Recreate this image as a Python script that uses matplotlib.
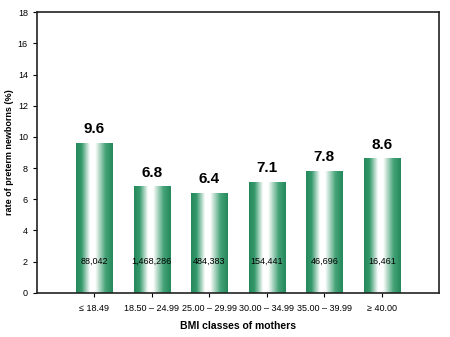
import numpy as np
import matplotlib.pyplot as plt
from matplotlib.colors import LinearSegmentedColormap

# BMI classes and preterm rates
classes = ['\u2264 18.49', '18.50 \u2013 24.99', '25.00 \u2013 29.99',
           '30.00 \u2013 34.99', '35.00 \u2013 39.99', '\u2265 40.00']
rates = [9.6, 6.8, 6.4, 7.1, 7.8, 8.6]
counts = ['88,042', '1,468,286', '484,383', '154,441', '46,696', '16,461']

plt.rcParams['font.family'] = ['Liberation Sans Narrow', 'Liberation Sans', 'DejaVu Sans']

fig = plt.figure(figsize=(4.5, 3.37), dpi=100)
ax = fig.add_axes([0.082, 0.131, 0.894, 0.833])

x = np.arange(1, len(classes) + 1)
bars = ax.bar(x, rates, width=0.63, color='none', edgecolor='none', zorder=2)

# green-white-green horizontal gradient for each bar
cmap = LinearSegmentedColormap.from_list(
    'gw', [(0, '#24885a'), (0.15, '#35996b'), (0.38, '#ffffff'),
           (0.52, '#ffffff'), (0.8, '#45a378'), (1, '#24885a')])
grad = np.linspace(0, 1, 256).reshape(1, -1)
for b in bars:
    x0, y0 = b.get_x(), b.get_y()
    ax.imshow(grad, cmap=cmap, aspect='auto', zorder=2,
              extent=[x0, x0 + b.get_width(), y0, y0 + b.get_height()])

for xi, r, c in zip(x, rates, counts):
    ax.text(xi, r + 0.45, f'{r:.1f}', ha='center', va='bottom',
            fontsize=11, fontweight='bold')
    ax.text(xi, 2, c, ha='center', va='center', fontsize=6.5)

ax.set_xlim(0, 7)
ax.set_ylim(0, 18)
ax.set_yticks(range(0, 19, 2))
ax.set_xticks(x)
ax.set_xticklabels(classes)
ax.tick_params(axis='both', labelsize=6.5, length=3, width=0.8, direction='out')
ax.tick_params(axis='x', pad=5)
for s in ax.spines.values():
    s.set_linewidth(1.2)
    s.set_color('#222222')

ax.set_ylabel('rate of preterm newborns (%)', fontsize=6.5, fontweight='bold',
              labelpad=3)
ax.set_xlabel('BMI classes of mothers', fontsize=7.5, fontweight='bold', labelpad=6)

fig.savefig('out.png', dpi=100)
